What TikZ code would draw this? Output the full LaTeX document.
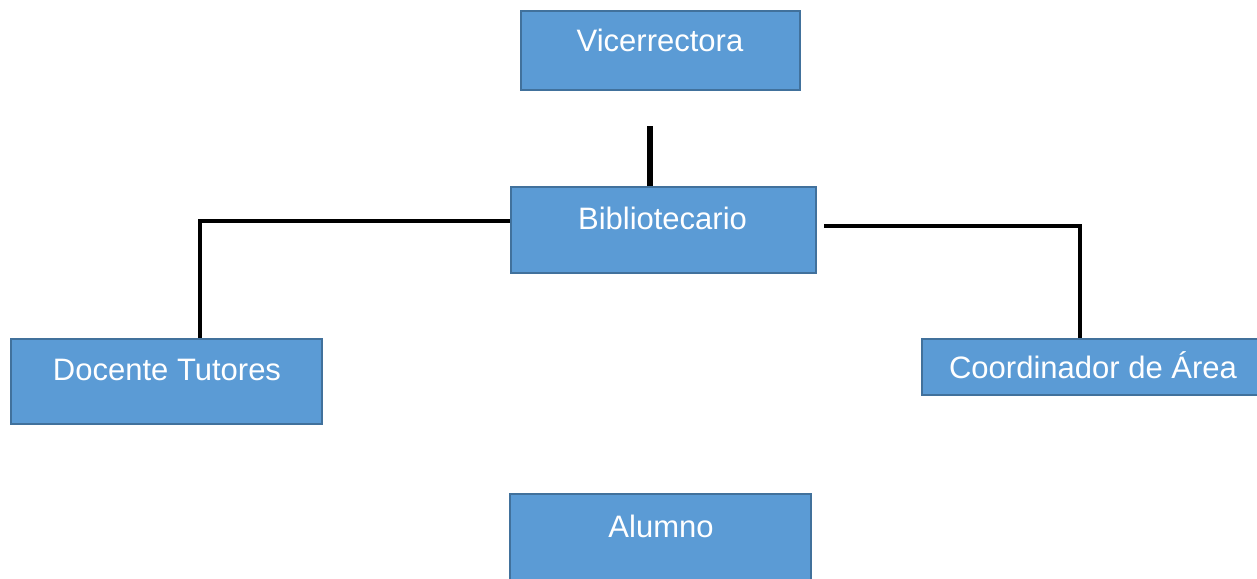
\documentclass[tikz,border=0pt]{standalone}
\usepackage{fontspec}
\setmainfont{Liberation Sans}
\definecolor{boxfill}{HTML}{5B9BD5}
\definecolor{boxline}{HTML}{41719C}
\begin{document}
\begin{tikzpicture}[x=1pt,y=-1pt,
  orgbox/.style={draw=boxline, fill=boxfill, line width=2pt},
  lbl/.style={anchor=base, text=white, inner sep=0pt, font=\fontsize{31}{37}\selectfont},
  conn/.style={draw=black, line width=3.5pt},
  thick conn/.style={draw=black, line width=6.5pt}]
\useasboundingbox (0,0) rectangle (1257,578);
\clip (0,0) rectangle (1257,578);
\fill[white] (0,0) rectangle (1257,578);
% boxes
\node[orgbox, minimum width=279pt, minimum height=79pt, inner sep=0pt] (vic) at (660.5,50.5) {};
\node[orgbox, minimum width=305pt, minimum height=86pt, inner sep=0pt] (bib) at (663.5,230) {};
\node[orgbox, minimum width=311pt, minimum height=85pt, inner sep=0pt] (doc) at (166.5,381.5) {};
\node[orgbox, minimum width=345pt, minimum height=56pt, inner sep=0pt] (coo) at (1094.5,367) {};
\node[orgbox, minimum width=301pt, minimum height=92pt, inner sep=0pt] (alu) at (660.5,540) {};
% labels
\node[lbl] (tvic) at (660,52) {Vicerrectora};
\node[lbl] (tbib) at (662.5,229) {Bibliotecario};
\node[lbl] (tdoc) at (167,380) {Docente Tutores};
\node[lbl] (tcoo) at (1093,378) {Coordinador de Área};
\node[lbl] (talu) at (661,537) {Alumno};
% connectors
\coordinate (vtop) at (650,126);
\draw[thick conn] (vtop) -- (vtop |- bib.north);
\draw[conn] (bib.west |- 0,221) -- (200,221) -- (200,221 |- doc.north);
\coordinate (rstart) at (824,226);
\draw[conn] (rstart) -- (1080,226) -- (1080,226 |- coo.north);
\end{tikzpicture}
\end{document}
